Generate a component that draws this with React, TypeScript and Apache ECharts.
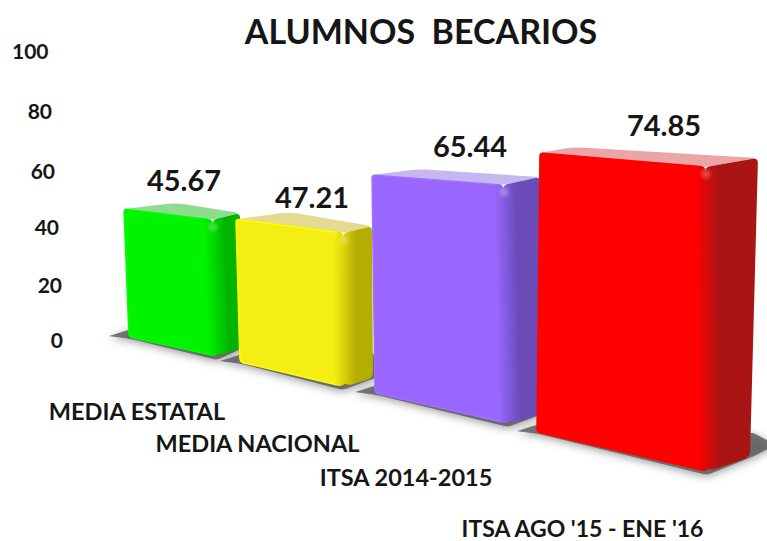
import React, { useEffect, useRef } from "react";
import * as echarts from "echarts";

const titleText = "ALUMNOS  BECARIOS";
const categories = ["MEDIA ESTATAL", "MEDIA NACIONAL", "ITSA 2014-2015", "ITSA AGO '15 - ENE '16"];
const values = [45.67, 47.21, 65.44, 74.85];
const yTicks = [0, 20, 40, 60, 80, 100];

const frontColors = ["#00f400", "#f5ee14", "#9966ff", "#ff0000"];
const rimColors = ["#00ff00", "#ffff00", "#a070ff", "#ff0000"];
const sideColors = ["#00b400", "#b5ae00", "#6a4bb8", "#ab1414"];
const topColors = ["#8ddc90", "#e4da90", "#c6b6f2", "#eaa6a6"];

// Perspective of the picture: each corner is [dx, dy, k, topDx], relative to
// the bar's band centre and axis zero; k multiplies the axis pixel height.
type Corner = number[];
const frontLeft: Corner[] = [[-16, -3, 0.973, -21], [-75, 22, 1.05, -79], [-110, 53, 1.156, -113], [-118, 92, 1.294, -115]];
const frontRight: Corner[] = [[72, 17, 1.042, 67], [28, 47, 1.132, 28], [23, 84, 1.268, 18], [52, 132, 1.415, 50]];
const sideRight: Corner[] = [[96, 8, 1.027, 95], [58, 38, 1.118, 57], [53, 75, 1.263, 55], [95, 117, 1.387, 103]];
const backLeft: Corner[] = [[32, 0, 1.042, 32], [-25, 0, 0.941, -25], [-68, 0, 0.907, -68], [-82, 0, 0.895, -82]];
const labelShift = [[7, -23], [22, -16], [53, -24], [91, -23]];
const xLabelPad = [[118, 16], [182, 115], [250, 158], [351, 145]];
const xLabelSize = [23.5, 23.5, 23.5, 23];
const yLabelPad: Record<number, number[]> = { 0: [0, 0, 2], 20: [5, 1, 0], 40: [4, 4, 0], 60: [6, 8, 0], 80: [1, 11, 0], 100: [0, 14.5, 4] };

const FONT = "Lato, 'Open Sans', sans-serif";
const INK = "#161616";

function roundPoly(pts: number[][], radii: number[]) {
  const n = pts.length;
  let d = "";
  for (let i = 0; i < n; i++) {
    const p = pts[i];
    const a = pts[(i + n - 1) % n];
    const b = pts[(i + 1) % n];
    const r = radii[i];
    const la = Math.hypot(a[0] - p[0], a[1] - p[1]);
    const lb = Math.hypot(b[0] - p[0], b[1] - p[1]);
    const s = [p[0] + ((a[0] - p[0]) * r) / la, p[1] + ((a[1] - p[1]) * r) / la];
    const e = [p[0] + ((b[0] - p[0]) * r) / lb, p[1] + ((b[1] - p[1]) * r) / lb];
    d += `${i === 0 ? "M" : "L"}${s[0]} ${s[1]}Q${p[0]} ${p[1]} ${e[0]} ${e[1]}`;
  }
  return d + "Z";
}

function geometry(api: any) {
  const i = api.value(0);
  const v = api.value(1);
  const zero = api.coord([i, 0]);
  const px = zero[1] - api.coord([i, v])[1];
  const ground = (c: Corner) => [zero[0] + c[0], zero[1] + c[1]];
  const top = (c: Corner) => [zero[0] + c[3], zero[1] + c[1] - c[2] * px];
  return {
    i, v,
    gFL: ground(frontLeft[i]), gFR: ground(frontRight[i]), gSR: ground(sideRight[i]),
    tFL: top(frontLeft[i]), tFR: top(frontRight[i]), tSR: top(sideRight[i]), tBL: top(backLeft[i]),
  };
}

function renderShadow(_: any, api: any) {
  const g = geometry(api);
  const pts = [
    [g.gFL[0] - 20, g.gFL[1] - 1],
    [g.gFL[0] + 2, g.gFL[1] - 8],
    [g.gSR[0] + 4, g.gSR[1] - 24],
    [g.gSR[0] + 26, g.gSR[1] - 12],
    [g.gSR[0] + 2, g.gSR[1]],
    [g.gFR[0], g.gFR[1] + 3],
    [g.gFL[0] + 2, g.gFL[1] + 2],
  ];
  return {
    type: "path",
    shape: { pathData: roundPoly(pts, [1, 4, 4, 4, 4, 4, 4]) },
    style: { fill: "rgba(80,80,80,0.75)", shadowBlur: 9, shadowColor: "rgba(0,0,0,0.5)", shadowOffsetY: 2 },
    silent: true,
  };
}

function renderBar(_: any, api: any) {
  const g = geometry(api);
  const i = g.i;
  const side = sideColors[i];
  const front = frontColors[i];
  const mid = echarts.color.lerp(0.5, [front, side]);
  const ex = g.gFR[0] - g.tFR[0];
  const ey = g.gFR[1] - g.tFR[1];
  const len = Math.hypot(ex, ey);
  const nx = ey / len;
  const ny = -ex / len;
  const along = (d: number) => [g.tFR[0] + nx * d, g.tFR[1] + ny * d];
  const grad = (from: number, to: number, c0: string, c1: string) => {
    const a = along(from);
    const b = along(to);
    return {
      type: "linear", global: true, x: a[0], y: a[1], x2: b[0], y2: b[1],
      colorStops: [{ offset: 0, color: c0 }, { offset: 1, color: c1 }],
    };
  };
  return {
    type: "group",
    children: [
      {
        type: "path",
        shape: { pathData: roundPoly([g.tFL, g.tBL, g.tSR, g.tFR], [4, 8, 5, 5]) },
        style: { fill: topColors[i] },
      },
      {
        type: "path",
        shape: { pathData: roundPoly([g.tFR, g.tSR, g.gSR, g.gFR], [5, 5, 6, 10]) },
        style: { fill: grad(2, 13, mid, side) },
      },
      {
        type: "path",
        shape: { pathData: roundPoly([g.tFL, g.tFR, [g.gFR[0] + 3, g.gFR[1]], g.gFL], [3, 5, 10, 4]) },
        style: {
          fill: grad(-9, 2, front, mid),
          stroke: grad(-9, 2, rimColors[i], mid),
          lineWidth: 1.5,
        },
      },
      {
        type: "circle",
        shape: { cx: g.tFR[0] + 1, cy: g.tFR[1] + 7, r: 7 },
        style: {
          fill: {
            type: "radial", x: 0.5, y: 0.5, r: 0.5,
            colorStops: [
              { offset: 0, color: "rgba(255,255,255,0.3)" },
              { offset: 1, color: "rgba(255,255,255,0)" },
            ],
          },
        },
      },
      {
        type: "text",
        style: {
          text: g.v.toFixed(2),
          x: g.tBL[0] + labelShift[i][0],
          y: g.tBL[1] + labelShift[i][1],
          align: "center",
          verticalAlign: "middle",
          fontFamily: FONT, fontWeight: "bold", fontSize: 29,
          fill: INK,
        },
      },
    ],
  };
}

export default function App() {
  const ref = useRef<HTMLDivElement>(null);
  useEffect(() => {
    const chart = echarts.init(ref.current!, null, { renderer: "svg" });
    const points = values.map((v, i) => [categories[i], v]);
    const xRich: any = {};
    categories.forEach((_, i) => {
      xRich[`c${i}`] = {
        fontFamily: FONT, fontWeight: "bold", fontSize: xLabelSize[i], color: INK, lineHeight: 24,
        padding: [xLabelPad[i][0], xLabelPad[i][1], 0, 0],
      };
    });
    const yRich: any = {};
    yTicks.forEach((t) => {
      const p = yLabelPad[t];
      yRich[`t${t}`] = {
        fontFamily: FONT, fontWeight: "bold", fontSize: 21, color: INK,
        padding: [p[0], p[1], p[2], 0],
      };
    });
    chart.setOption({
      animation: false,
      backgroundColor: "#ffffff",
      title: {
        text: titleText, left: 416, top: 8, textAlign: "center",
        textStyle: { fontFamily: FONT, fontWeight: "bold", fontSize: 34, color: INK },
      },
      grid: { left: 60, width: 680, top: 52, height: 288, outerBoundsMode: "none" },
      xAxis: {
        type: "category", data: categories,
        axisLine: { show: false }, axisTick: { show: false }, splitLine: { show: false },
        axisLabel: {
          interval: 0, margin: 0, verticalAlign: "top",
          formatter: (s: string) => `{c${categories.indexOf(s)}|${s}}`,
          rich: xRich,
        },
      },
      yAxis: {
        type: "value", min: 0, max: 100, interval: 20,
        axisLine: { show: false }, axisTick: { show: false }, splitLine: { show: false },
        axisLabel: {
          margin: -3,
          formatter: (v: number) => `{t${v}|${v}}`,
          rich: yRich,
        },
      },
      series: [
        { type: "custom", z: 1, data: points, encode: { x: 0, y: 1 }, renderItem: renderShadow, silent: true },
        { type: "custom", z: 2, data: points, encode: { x: 0, y: 1 }, renderItem: renderBar, silent: true },
      ],
    });
    return () => chart.dispose();
  }, []);
  return <div ref={ref} style={{ position: "fixed", left: 0, top: 0, width: 767, height: 541 }} />;
}
